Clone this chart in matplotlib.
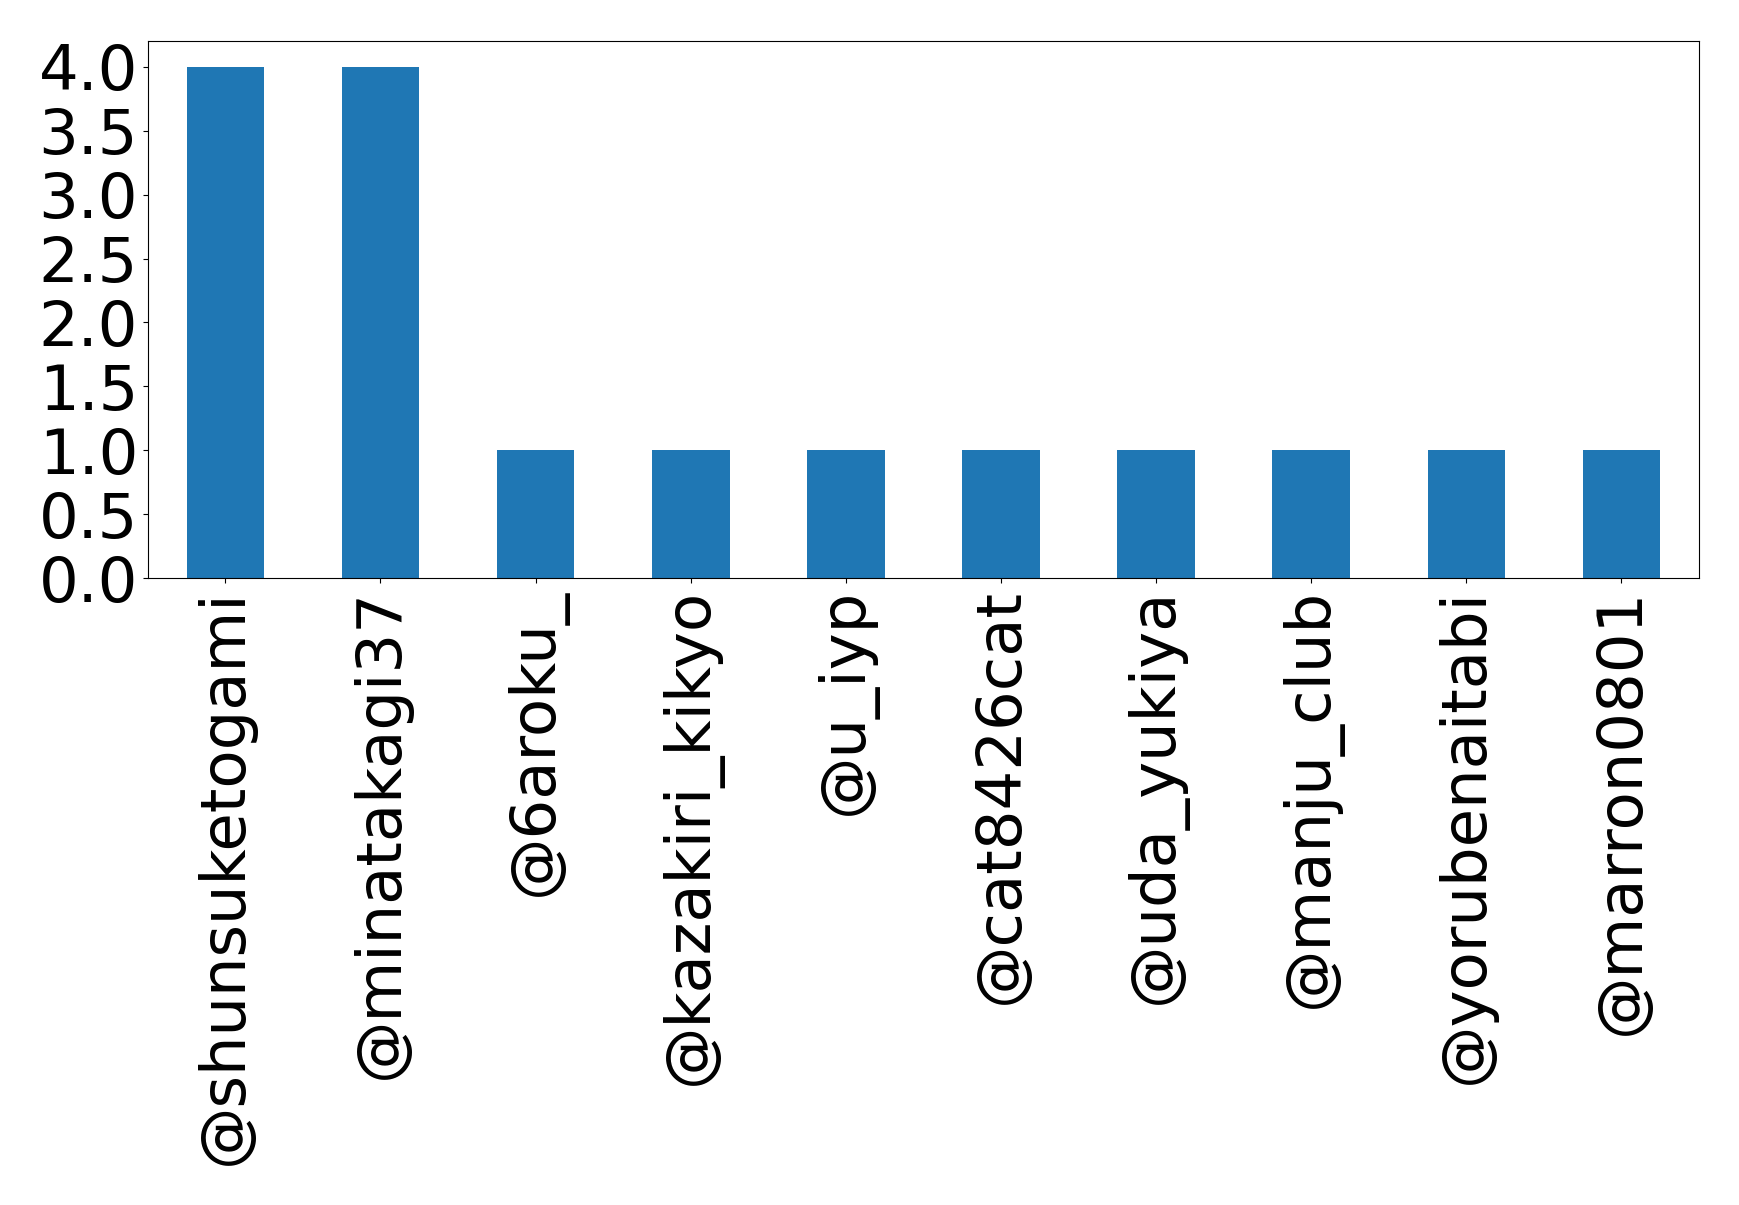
import matplotlib
matplotlib.use("Agg")
import matplotlib.pyplot as plt
import pandas as pd

usuarios = [
    "@shunsuketogami",
    "@minatakagi37",
    "@6aroku_",
    "@kazakiri_kikyo",
    "@u_iyp",
    "@cat8426cat",
    "@uda_yukiya",
    "@manju_club",
    "@yorubenaitabi",
    "@marron0801",
]
conteos = [4, 4, 1, 1, 1, 1, 1, 1, 1, 1]


def main() -> None:
    serie = pd.Series(conteos, index=usuarios)
    fig = plt.figure(figsize=(17.39, 12.05), dpi=100)
    ax = fig.add_subplot(111)
    serie.plot(kind="bar", ax=ax, fontsize=45, color="#1f77b4")
    fig.subplots_adjust(left=0.085, right=0.977, top=0.966, bottom=0.520)
    fig.savefig("out.png", dpi=100)


if __name__ == "__main__":
    main()
